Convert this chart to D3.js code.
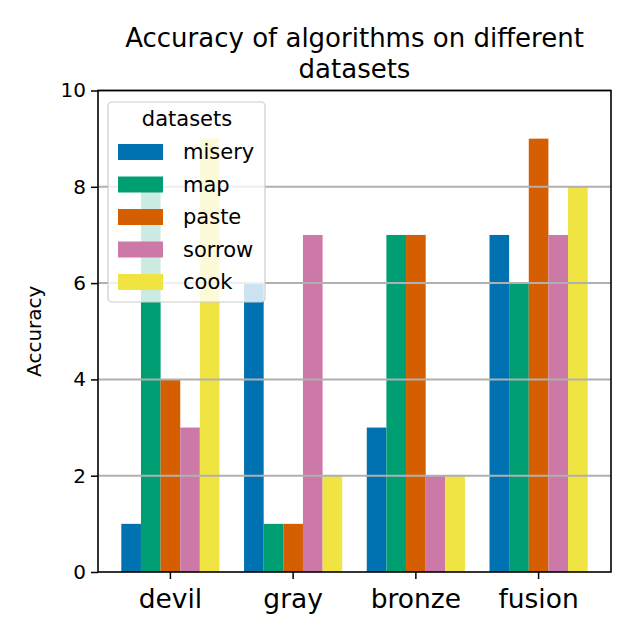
<!DOCTYPE html>
<html><head><meta charset="utf-8">
<script src="https://cdn.jsdelivr.net/npm/d3@7"></script>
<style>body{margin:0;background:#fff}svg{font-family:"DejaVu Sans",sans-serif}</style>
</head><body>
<svg id="c" width="640" height="640"></svg>
<script>
const categories = ["devil", "gray", "bronze", "fusion"];
const seriesNames = ["misery", "map", "paste", "sorrow", "cook"];
const misery = [1, 6, 3, 7];
const map = [8, 1, 7, 6];
const paste = [4, 1, 7, 9];
const sorrow = [3, 7, 2, 7];
const cook = [9, 2, 2, 8];
const seriesValues = [misery, map, paste, sorrow, cook];
const colors = ["#0072B2", "#009E73", "#D55E00", "#CC79A7", "#F0E442"];
const yTicks = [0, 2, 4, 6, 8, 10];
const titleLines = ["Accuracy of algorithms on different", "datasets"];

const svg = d3.select("#c");
const L = 98, R = 611, T = 90.5, B = 572;
const x = d3.scaleBand().domain(categories).range([L, R]).paddingInner(0.2).paddingOuter(0.19);
const xs = d3.scaleBand().domain(seriesNames).range([0, x.bandwidth()]);
const y = d3.scaleLinear().domain([0, 10]).range([B, T]);

// bars
seriesNames.forEach((s, si) => {
  svg.append("g").selectAll("rect").data(seriesValues[si]).join("rect")
    .attr("x", (d, i) => x(categories[i]) + xs(s))
    .attr("y", d => y(d))
    .attr("width", xs.bandwidth())
    .attr("height", d => B - y(d))
    .attr("fill", colors[si]);
});

// grid on top
svg.append("g").selectAll("line").data(yTicks.filter(t => t > 0)).join("line")
  .attr("x1", L).attr("x2", R).attr("y1", d => y(d)).attr("y2", d => y(d))
  .attr("stroke", "#b0b0b0").attr("stroke-width", 2);

// axes
const yAxis = svg.append("g").attr("transform", `translate(${L},0)`)
  .call(d3.axisLeft(y).tickValues(yTicks).tickSize(7).tickPadding(5));
yAxis.select(".domain").remove();
yAxis.selectAll("text").attr("font-size", 20).attr("fill", "#000").attr("font-family", "DejaVu Sans");
yAxis.selectAll("line").attr("stroke", "#000").attr("stroke-width", 1.5);

const xAxis = svg.append("g").attr("transform", `translate(0,${B})`)
  .call(d3.axisBottom(x).tickSize(7).tickPadding(10));
xAxis.select(".domain").remove();
xAxis.selectAll("text").attr("font-size", 26.5).attr("fill", "#000").attr("font-family", "DejaVu Sans");
xAxis.selectAll("line").attr("stroke", "#000").attr("stroke-width", 1.5);

// frame
svg.append("rect").attr("x", L).attr("y", T).attr("width", R - L).attr("height", B - T)
  .attr("fill", "none").attr("stroke", "#000").attr("stroke-width", 1.6);

// y label
svg.append("text").attr("transform", `translate(41,${(T + B) / 2}) rotate(-90)`)
  .attr("text-anchor", "middle").attr("font-size", 20).text("Accuracy");

// title
svg.append("g").selectAll("text").data(titleLines).join("text")
  .attr("x", (L + R) / 2).attr("y", (d, i) => 47 + i * 31)
  .attr("text-anchor", "middle").attr("font-size", 26).text(d => d);

// legend
const lg = svg.append("g");
lg.append("rect").attr("x", 108).attr("y", 102).attr("width", 157).attr("height", 200)
  .attr("rx", 4).attr("fill", "#fff").attr("fill-opacity", 0.8).attr("stroke", "#ccc").attr("stroke-width", 1.2);
lg.append("text").attr("x", 187).attr("y", 126).attr("text-anchor", "middle").attr("font-size", 21).text("datasets");
const rows = lg.selectAll("g.row").data(seriesNames).join("g").attr("class", "row")
  .attr("transform", (d, i) => `translate(0,${152 + i * 32.5})`);
rows.append("rect").attr("x", 118).attr("y", -8).attr("width", 45).attr("height", 16)
  .attr("fill", (d, i) => colors[i]);
rows.append("text").attr("x", 183).attr("y", 7).attr("font-size", 21).text(d => d);
</script>
</body></html>
